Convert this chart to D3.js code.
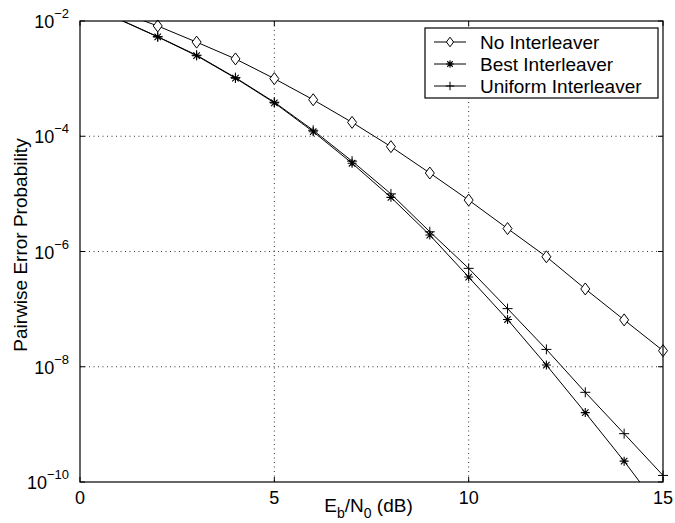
<!DOCTYPE html>
<html>
<head>
<meta charset="utf-8">
<script src="https://cdn.jsdelivr.net/npm/d3@7/dist/d3.min.js"></script>
<style>
  body { margin: 0; background: #fff; }
  svg { font-family: "Liberation Sans", Arial, Helvetica, sans-serif; }
</style>
</head>
<body>
<svg id="chart" width="675" height="523"></svg>
<script>
// Eb/N0 values (dB)
var snr = [1, 2, 3, 4, 5, 6, 7, 8, 9, 10, 11, 12, 13, 14, 15];

var noInterleaver = [1.45e-2, 8.2e-3, 4.3e-3, 2.2e-3, 1.0e-3, 4.3e-4, 1.74e-4, 6.6e-5,
                     2.3e-5, 7.8e-6, 2.5e-6, 8.1e-7, 2.24e-7, 6.5e-8, 1.9e-8];
var bestInterleaver = [1.07e-2, 5.3e-3, 2.5e-3, 1.02e-3, 3.8e-4, 1.2e-4, 3.4e-5, 8.7e-6,
                       1.93e-6, 3.6e-7, 6.6e-8, 1.07e-8, 1.6e-9, 2.3e-10, 2.9e-11];
var uniformInterleaver = [1.08e-2, 5.35e-3, 2.55e-3, 1.04e-3, 3.9e-4, 1.27e-4, 3.7e-5, 1.0e-5,
                          2.2e-6, 5.1e-7, 1.02e-7, 2.0e-8, 3.6e-9, 6.9e-10, 1.3e-10];

var xTicks = [0, 5, 10, 15];
var yTicks = [1e-2, 1e-4, 1e-6, 1e-8, 1e-10];
var seriesNames = ["No Interleaver", "Best Interleaver", "Uniform Interleaver"];

// plot box (note: "top" is reserved on window, so use other names)
var pLeft = 80, pTop = 21, pRight = 663, pBottom = 482;

var svg = d3.select("#chart");

var x = d3.scaleLinear().domain([0, 15]).range([pLeft, pRight]);
var y = d3.scaleLog().domain([1e-10, 1e-2]).range([pBottom, pTop]);

// grid
var grid = svg.append("g")
    .attr("stroke", "#000")
    .attr("stroke-width", 0.8)
    .attr("stroke-dasharray", "1,3.5");

grid.selectAll(".gx").data(xTicks.slice(1, -1)).enter().append("line")
    .attr("x1", function(d) { return x(d); })
    .attr("x2", function(d) { return x(d); })
    .attr("y1", pTop).attr("y2", pBottom);

grid.selectAll(".gy").data(yTicks.slice(1, -1)).enter().append("line")
    .attr("y1", function(d) { return y(d); })
    .attr("y2", function(d) { return y(d); })
    .attr("x1", pLeft).attr("x2", pRight);

// clip for the lines
svg.append("clipPath").attr("id", "plotclip")
    .append("rect")
    .attr("x", pLeft).attr("y", pTop)
    .attr("width", pRight - pLeft).attr("height", pBottom - pTop);

var plot = svg.append("g").attr("clip-path", "url(#plotclip)");

var line = d3.line()
    .x(function(d) { return x(d[0]); })
    .y(function(d) { return y(d[1]); });

function pairs(vals) {
    return snr.map(function(s, i) { return [s, vals[i]]; });
}

var series = [
    { name: seriesNames[0], data: pairs(noInterleaver), marker: "diamond" },
    { name: seriesNames[1], data: pairs(bestInterleaver), marker: "star" },
    { name: seriesNames[2], data: pairs(uniformInterleaver), marker: "plus" }
];

function drawMarker(g, type, cx, cy, scale) {
    var s = scale || 1;
    if (type === "diamond") {
        var w = 4.5 * s, h = 6 * s;
        g.append("path")
            .attr("d", "M" + cx + "," + (cy - h) + "L" + (cx + w) + "," + cy +
                       "L" + cx + "," + (cy + h) + "L" + (cx - w) + "," + cy + "Z")
            .attr("fill", "#fff").attr("stroke", "#000").attr("stroke-width", 1);
    } else if (type === "star") {
        var r = 4.5 * s, d = r * 0.72;
        var p = "M" + (cx - r) + "," + cy + "L" + (cx + r) + "," + cy +
                "M" + cx + "," + (cy - r) + "L" + cx + "," + (cy + r) +
                "M" + (cx - d) + "," + (cy - d) + "L" + (cx + d) + "," + (cy + d) +
                "M" + (cx - d) + "," + (cy + d) + "L" + (cx + d) + "," + (cy - d);
        g.append("path").attr("d", p).attr("stroke", "#000").attr("stroke-width", 1.1);
    } else {
        var q = 5 * s;
        g.append("path")
            .attr("d", "M" + (cx - q) + "," + cy + "L" + (cx + q) + "," + cy +
                       "M" + cx + "," + (cy - q) + "L" + cx + "," + (cy + q))
            .attr("stroke", "#000").attr("stroke-width", 1);
    }
}

series.forEach(function(sr) {
    plot.append("path")
        .datum(sr.data)
        .attr("d", line)
        .attr("fill", "none")
        .attr("stroke", "#000")
        .attr("stroke-width", 1);
});

series.forEach(function(sr) {
    var mg = svg.append("g");
    sr.data.forEach(function(d) {
        if (d[1] <= 1.02e-2 && d[1] >= 0.98e-10) drawMarker(mg, sr.marker, x(d[0]), y(d[1]));
    });
});

// frame
svg.append("rect")
    .attr("x", pLeft).attr("y", pTop)
    .attr("width", pRight - pLeft).attr("height", pBottom - pTop)
    .attr("fill", "none").attr("stroke", "#000").attr("stroke-width", 1.2);

// ticks (inside, all four sides)
var tl = 5;
var ticks = svg.append("g").attr("stroke", "#000").attr("stroke-width", 1);
xTicks.forEach(function(t) {
    ticks.append("line").attr("x1", x(t)).attr("x2", x(t)).attr("y1", pBottom).attr("y2", pBottom - tl);
    ticks.append("line").attr("x1", x(t)).attr("x2", x(t)).attr("y1", pTop).attr("y2", pTop + tl);
});
yTicks.forEach(function(t) {
    ticks.append("line").attr("y1", y(t)).attr("y2", y(t)).attr("x1", pLeft).attr("x2", pLeft + tl);
    ticks.append("line").attr("y1", y(t)).attr("y2", y(t)).attr("x1", pRight).attr("x2", pRight - tl);
});

// x tick labels
svg.selectAll(".xl").data(xTicks).enter().append("text")
    .attr("x", function(d) { return x(d); })
    .attr("y", pBottom + 22)
    .attr("text-anchor", "middle")
    .attr("font-size", 18)
    .text(function(d) { return d; });

// y tick labels with superscript exponent
yTicks.forEach(function(t) {
    var e = Math.round(Math.log10(t));
    var txt = svg.append("text")
        .attr("x", pLeft - 11)
        .attr("y", y(t) + 7)
        .attr("text-anchor", "end")
        .attr("font-size", 18);
    txt.append("tspan").text("10");
    txt.append("tspan")
        .attr("dy", -10)
        .attr("font-size", 13)
        .text("\u2212" + Math.abs(e));
});

// axis labels
var xl = svg.append("text")
    .attr("x", (pLeft + pRight) / 2 - 3)
    .attr("y", 512)
    .attr("text-anchor", "middle")
    .attr("font-size", 19);
xl.append("tspan").text("E");
xl.append("tspan").attr("dy", 6).attr("font-size", 14).text("b");
xl.append("tspan").attr("dy", -6).text("/N");
xl.append("tspan").attr("dy", 6).attr("font-size", 14).text("0");
xl.append("tspan").attr("dy", -6).text(" (dB)");

svg.append("text")
    .attr("transform", "translate(27,245) rotate(-90)")
    .attr("text-anchor", "middle")
    .attr("font-size", 19)
    .text("Pairwise Error Probability");

// legend
var lg = svg.append("g");
lg.append("rect")
    .attr("x", 425).attr("y", 28)
    .attr("width", 233).attr("height", 70)
    .attr("fill", "#fff").attr("stroke", "#000").attr("stroke-width", 1.2);

series.forEach(function(sr, i) {
    var ly = 42 + i * 22;
    lg.append("line")
        .attr("x1", 434).attr("x2", 466)
        .attr("y1", ly).attr("y2", ly)
        .attr("stroke", "#000").attr("stroke-width", 1);
    drawMarker(lg, sr.marker, 450, ly, sr.marker === "diamond" ? 0.8 : 0.85);
    lg.append("text")
        .attr("x", 480).attr("y", ly + 7)
        .attr("font-size", 19)
        .text(sr.name);
});
</script>
</body>
</html>
